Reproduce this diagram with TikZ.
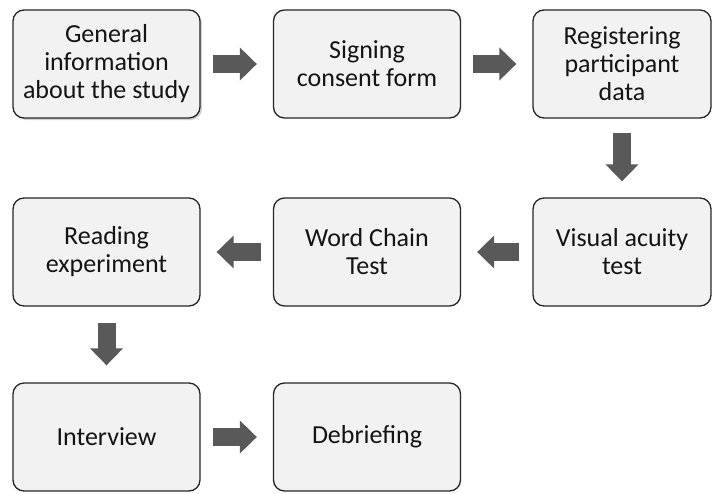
\documentclass[tikz,border=0pt]{standalone}
\usepackage{fontspec}
\setmainfont{Carlito}
\usetikzlibrary{arrows.meta,positioning,shadows}
\definecolor{boxfill}{RGB}{242,242,242}
\definecolor{boxline}{RGB}{38,38,38}
\definecolor{arrgray}{RGB}{89,89,89}
\definecolor{txtcol}{RGB}{20,20,20}

\begin{document}
\begin{tikzpicture}[x=1pt, y=-1pt,
    stagebox/.style={rectangle, draw=boxline, line width=1.3pt, fill=boxfill,
        minimum width=187pt, minimum height=108pt, rounded corners=11pt,
        align=center, text=txtcol, font=\fontsize{26}{28}\selectfont},
    blockarr/.style={line width=18pt, draw=arrgray,
        -{Triangle[length=17pt, width=32pt]}}
]
    \useasboundingbox (0,0) rectangle (712,493);

    % First row
    \node[stagebox, drop shadow={shadow xshift=2pt, shadow yshift=-2pt, opacity=0.35}]
        (info) at (106.5,64) {General\\information\\about the study};
    \node[stagebox] (consent) at (367,64) {Signing\\consent form};
    \node[stagebox, minimum width=178pt] (register) at (622,64) {Registering\\participant\\data};

    % Second row
    \node[stagebox, minimum width=178pt] (acuity) at (622,252) {Visual acuity\\test};
    \node[stagebox] (wordchain) at (367,252) {Word Chain\\Test};
    \node[stagebox] (reading) at (106.5,252) {Reading\\experiment};

    % Third row
    \node[stagebox] (interview) at (106.5,437) {Interview};
    \node[stagebox] (debrief) at (367,437) {Debriefing};

    % Block arrows
    \draw[blockarr, shorten <=12pt, shorten >=16pt] (info) -- (consent);
    \draw[blockarr, shorten <=12pt, shorten >=16pt] (consent) -- (register);
    \draw[blockarr, shorten <=14pt, shorten >=16pt] (register) -- (acuity);
    \draw[blockarr, shorten <=13pt, shorten >=16pt] (acuity) -- (wordchain);
    \draw[blockarr, shorten <=12pt, shorten >=16pt] (wordchain) -- (reading);
    \draw[blockarr, shorten <=16pt, shorten >=17pt] (reading) -- (interview);
    \draw[blockarr, shorten <=12pt, shorten >=16pt] (interview) -- (debrief);
\end{tikzpicture}
\end{document}
